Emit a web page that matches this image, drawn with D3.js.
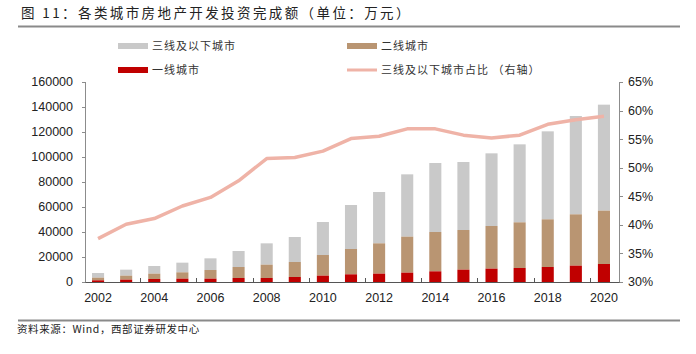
<!DOCTYPE html>
<html><head><meta charset="utf-8">
<script src="https://cdn.jsdelivr.net/npm/d3@7"></script>
<style>
body{margin:0;background:#fff;}
svg{display:block;}
</style></head>
<body><svg id="c" width="696" height="354"></svg>
<script>
const years = [2002,2003,2004,2005,2006,2007,2008,2009,2010,2011,2012,2013,2014,2015,2016,2017,2018,2019,2020];
// stacked segment values
const tier1 = [1330,1870,2400,2670,2670,3200,3200,4000,5070,6130,6670,7470,8530,9870,10670,11200,12000,13070,14400];
const tier2 = [2140,3200,4270,5060,6930,8800,10670,12000,16530,20270,24260,28800,31470,31730,34130,36530,38130,41060,42670];
const tier3 = [3730,4800,6130,7740,9330,12800,17060,20000,26400,35200,41070,49860,55200,54400,58130,62400,70400,78670,84800];
const ratio = [37.6,40.1,41.1,43.3,44.8,47.7,51.6,51.8,52.9,55.1,55.5,56.8,56.8,55.7,55.2,55.7,57.6,58.4,59.0];
const leftTicks = [0,20000,40000,60000,80000,100000,120000,140000,160000];
const rightTicks = [30,35,40,45,50,55,60,65];
const xLabels = [2002,2004,2006,2008,2010,2012,2014,2016,2018,2020];
const seriesNames = ["一线城市","二线城市","三线及以下城市"];
const lineName = "三线及以下城市占比 （右轴）";
const title = "图 11：各类城市房地产开发投资完成额（单位：万元）";
const source = "资料来源：Wind，西部证券研发中心";

const colors = {t1:"#c00000", t2:"#b99572", t3:"#c9c9c9", line:"#efb3a7", axis:"#8c8c8c"};
const svg = d3.select("#c");
const numFont = "'Liberation Sans', Arial, sans-serif";
const cjk = "'Noto Sans CJK SC', sans-serif";

const x = d3.scaleBand().domain(years).range([84,618]).paddingInner(0.57).paddingOuter(0.285);
const y = d3.scaleLinear().domain([0,160000]).range([282,82]);
const y2 = d3.scaleLinear().domain([30,65]).range([282,82]);

// title
svg.append("text").attr("x",21).attr("y",18).attr("font-family",cjk).attr("font-size",13.5)
  .attr("letter-spacing","2.4px").attr("fill","#222").text(title);
svg.append("line").attr("x1",18).attr("x2",680).attr("y1",26.5).attr("y2",26.5).attr("stroke","#8a8a8a").attr("stroke-width",2);
// source
svg.append("line").attr("x1",18).attr("x2",680).attr("y1",320.5).attr("y2",320.5).attr("stroke","#8a8a8a").attr("stroke-width",2);
svg.append("text").attr("x",17).attr("y",333).attr("font-family",cjk).attr("font-size",10.5)
  .attr("letter-spacing","0.6px").attr("fill","#222").text(source);

// stacked bars
const stacks = years.map((yr,i)=>({yr, a:tier1[i], b:tier1[i]+tier2[i], c:tier1[i]+tier2[i]+tier3[i]}));
const g = svg.append("g");
g.selectAll("rect.t3").data(stacks).join("rect").attr("class","t3").attr("x",d=>x(d.yr)).attr("width",x.bandwidth())
  .attr("y",d=>y(d.c)).attr("height",d=>y(d.b)-y(d.c)).attr("fill",colors.t3);
g.selectAll("rect.t2").data(stacks).join("rect").attr("class","t2").attr("x",d=>x(d.yr)).attr("width",x.bandwidth())
  .attr("y",d=>y(d.b)).attr("height",d=>y(d.a)-y(d.b)).attr("fill",colors.t2);
g.selectAll("rect.t1").data(stacks).join("rect").attr("class","t1").attr("x",d=>x(d.yr)).attr("width",x.bandwidth())
  .attr("y",d=>y(d.a)).attr("height",d=>y(0)-y(d.a)).attr("fill",colors.t1);

// line
const line = d3.line().x((d,i)=>x(years[i])+x.bandwidth()/2).y(d=>y2(d));
svg.append("path").datum(ratio).attr("d",line).attr("fill","none").attr("stroke",colors.line)
  .attr("stroke-width",3.5).attr("stroke-linejoin","round");

// axes
const axG = svg.append("g");
axG.append("line").attr("x1",85.5).attr("x2",85.5).attr("y1",82).attr("y2",282).attr("stroke",colors.axis);
axG.append("line").attr("x1",619.5).attr("x2",619.5).attr("y1",82).attr("y2",282).attr("stroke",colors.axis);
axG.append("line").attr("x1",84).attr("x2",620).attr("y1",282.5).attr("y2",282.5).attr("stroke","#555");
leftTicks.forEach(t=>{
  axG.append("line").attr("x1",82).attr("x2",85.5).attr("y1",Math.round(y(t))+0.5).attr("y2",Math.round(y(t))+0.5).attr("stroke",colors.axis);
  axG.append("text").attr("x",73).attr("y",y(t)).attr("dy","0.35em").attr("text-anchor","end")
    .attr("font-family",numFont).attr("font-size",12.5).attr("fill","#222").text(t);
});
rightTicks.forEach(t=>{
  axG.append("line").attr("x1",619.5).attr("x2",623).attr("y1",Math.round(y2(t))+0.5).attr("y2",Math.round(y2(t))+0.5).attr("stroke",colors.axis);
  axG.append("text").attr("x",628).attr("y",y2(t)).attr("dy","0.35em").attr("text-anchor","start")
    .attr("font-family",numFont).attr("font-size",12.5).attr("fill","#222").text(t+"%");
});
const step = x.step(), gap = step - x.bandwidth();
xLabels.forEach(yr=>{
  if (yr !== years[0]) {
    const bx = Math.round(x(yr) - gap/2) + 0.5;
    axG.append("line").attr("x1",bx).attr("x2",bx).attr("y1",278).attr("y2",282).attr("stroke","#555");
  }
  axG.append("text").attr("x",x(yr)+x.bandwidth()/2).attr("y",298).attr("dy","0.35em").attr("text-anchor","middle")
    .attr("font-family",numFont).attr("font-size",12.5).attr("fill","#222").text(yr);
});

// legend
const leg = svg.append("g").attr("font-family",cjk).attr("font-size",11).attr("fill","#333").attr("letter-spacing","1px");
const items = [
  {x:118,y:46,name:seriesNames[2],type:"rect",c:colors.t3},
  {x:347,y:46,name:seriesNames[1],type:"rect",c:colors.t2},
  {x:118,y:70,name:seriesNames[0],type:"rect",c:colors.t1},
  {x:347,y:70,name:lineName,type:"line",c:colors.line}
];
items.forEach(it=>{
  if (it.type==="rect") leg.append("rect").attr("x",it.x).attr("y",it.y-3).attr("width",30).attr("height",6).attr("fill",it.c);
  else leg.append("line").attr("x1",it.x).attr("x2",it.x+30).attr("y1",it.y).attr("y2",it.y).attr("stroke",it.c).attr("stroke-width",3);
  leg.append("text").attr("x",it.x+34).attr("y",it.y).attr("dy","0.35em").text(it.name);
});
</script></body></html>
